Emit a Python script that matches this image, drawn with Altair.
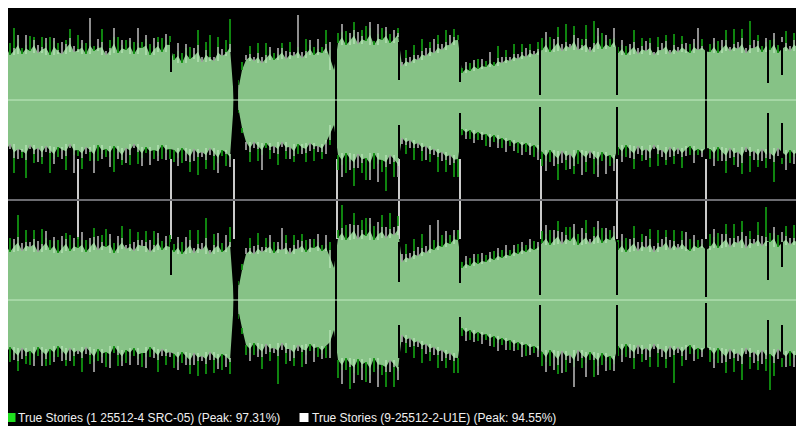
import altair as alt
import numpy as np
import pandas as pd

# ---------------- data ----------------
# Peak amplitude (% of full scale) per time block t (200 blocks), for the two
# channels (top / bottom panel), positive ("up") and negative ("down") side.
# *_common = level reached by both files, *_diff = file1 peak minus file2 peak
# (positive: file 1 / green is higher, negative: file 2 / white is higher)

top_up_common = [
    47, 58, 45, 52, 61, 46, 55, 49, 60, 47, 53, 57, 45, 59, 50, 46, 56, 62, 48, 51, 57, 46, 60, 49, 54, 58, 45, 52, 63, 47, 55, 50, 59, 46, 57, 52, 61, 45, 54, 58, 48, 60, 55,
    40, 49, 37, 52, 41, 46, 55, 38, 50, 43, 39, 53, 44, 48, 56,
    0, 15, 30,
    40, 46, 39, 47, 37, 45, 50, 40, 46, 52, 41, 48, 44, 53, 42, 49, 55, 45, 51, 47, 56, 50, 30,
    57, 68, 55, 62, 70, 56, 64, 59, 72, 55, 66, 60, 69, 57, 63, 67,
    34, 42, 37, 45, 40, 49, 44, 52, 47, 56, 50, 58, 55, 63, 60,
    27, 34, 29, 37, 31, 36, 33, 40, 34, 42, 37, 43, 39, 46, 41, 48, 43, 50, 45, 51,
    50, 60, 48, 56, 63, 49, 58, 52, 65, 50, 55, 61, 48, 57, 64, 51, 59, 53, 62,
    47, 55, 45, 52, 58, 46, 54, 49, 57, 45, 53, 50, 59, 46, 55, 48, 56, 51, 47, 57, 50, 54,
    49,
    48, 57, 47, 54, 60, 49, 56, 51, 62, 47, 55, 52, 59, 48, 58, 50, 61, 47, 54, 57, 49, 60, 52,
]
top_up_diff = [
    8, -6, 12, 20, -4, 6, -10, 15, 3, -8, 10, -5, 18, -3, 7, -12, 4, 9, -6, 14, -3, 11, -22, 5, -7, 13, -4, 8, -9, 16, -5, 10, -3, 12, -15, 6, -4, 11, -8, 5, 14, -6, 9,
    6, -8, 10, -4, 12, -6, 15, -5, 8, 22, -4, 10, -7, 12, 25,
    0, 5, 8,
    -5, 8, -4, 10, -6, 12, -3, 7, -6, 5, -8, 10, -4, -32, -6, 12, -5, 8, -10, 6, 14, -8, 0,
    10, -8, 14, -5, 8, -12, 6, 15, -6, 4, -10, 12, -4, 9, -7, 5,
    -4, 8, -6, 10, -5, 12, -8, 6, -14, 9, -6, 12, -10, 8, 5,
    5, -4, 8, -3, 10, -5, 6, -8, 4, 12, -6, 7, -4, 10, -5, 8, -9, 6, -4, 7,
    12, -8, 15, -5, 10, -7, 18, -4, 9, -12, 6, 14, -5, 22, -8, 16, -6, 8, -10,
    6, -5, 9, -4, 12, -6, 8, -10, 5, -3, 10, -7, 6, -4, 11, -5, 8, -6, 9, -4, -22, 7,
    0,
    8, -5, 12, -6, 10, -4, 15, -7, 9, -5, 24, -8, 6, 6, -4, 10, -6, 8, -9, 12, -5, 7, -4,
]
top_down_common = [
    46, 55, 44, 58, 49, 52, 60, 45, 54, 48, 57, 46, 53, 59, 47, 51, 56, 44, 55, 50, 58, 47, 52, 61, 45, 54, 49, 57, 46, 53, 60, 48, 55, 44, 52, 58, 47, 54, 50, 56, 45, 53, 49,
    50, 58, 48, 55, 62, 49, 57, 52, 60, 48, 56, 63, 50, 54, 59,
    0, 10, 28,
    42, 52, 42, 49, 55, 43, 50, 46, 54, 42, 51, 47, 56, 44, 50, 53, 43, 49, 46, 52, 44, 40, 25,
    55, 65, 53, 62, 68, 54, 63, 58, 70, 53, 64, 60, 67, 55, 62, 66,
    38, 45, 40, 48, 43, 51, 46, 54, 49, 57, 52, 60, 55, 63, 59,
    29, 35, 30, 38, 32, 37, 34, 41, 35, 43, 38, 44, 40, 47, 42, 48, 43, 50, 45, 52,
    52, 61, 50, 58, 64, 51, 60, 54, 66, 50, 57, 62, 51, 59, 65, 52, 60, 55, 63,
    47, 56, 45, 53, 59, 46, 55, 49, 58, 45, 54, 50, 60, 47, 56, 48, 57, 51, 46, 55, 49, 53,
    48,
    49, 58, 47, 55, 61, 48, 57, 52, 63, 47, 56, 51, 60, 49, 58, 53, 62, 48, 55, 59, 50, 57, 52,
]
top_down_diff = [
    -8, 12, -5, 15, -10, 6, 18, -4, 9, -14, 7, -6, 20, -5, 10, -8, 14, -4, -18, 6, 11, -7, 9, -12, 16, -5, 8, -10, 26, -6, 5, -15, 10, -4, 12, -8, 6, -11, 9, -5, 14, -7, 10,
    12, -8, 15, -6, 10, -12, 18, -5, 9, -7, 14, -10, 6, 12, -8,
    0, 3, 5,
    -8, 10, -6, 12, -15, 5, 9, -7, 11, -5, 8, -12, 6, 10, -4, 9, -8, 12, -6, 7, -10, 5, 0,
    15, -12, 20, -8, 18, -14, 10, 22, -10, 16, -18, 12, 24, -9, 15, -11,
    -6, 9, -8, 12, -5, 10, -14, 8, -6, 15, -9, 12, -10, 14, 18,
    6, -4, 9, -5, 8, -3, 12, -6, 7, -5, 10, -8, 6, -4, 11, -7, 9, -5, 12, -8,
    14, -10, 12, -8, 16, -12, 10, -15, 8, 14, -18, 10, -7, 15, -12, 9, -14, 11, -8,
    8, -6, 12, -5, 10, -8, 6, -11, 9, -4, 12, -7, 5, -10, 8, -6, 11, -5, 9, -8, 6, -4,
    0,
    10, -8, 14, -6, 12, -10, 8, -15, 11, -5, 16, -9, 7, -12, 10, -6, 20, -8, 9, -11, 13, -7, 8,
]
bottom_up_common = [
    50, 60, 48, 57, 63, 49, 58, 53, 61, 48, 56, 62, 50, 59, 47, 55, 61, 49, 57, 52, 60, 48, 56, 63, 50, 58, 53, 61, 47, 57, 62, 51, 56, 49, 60, 54, 58, 48, 55, 62, 50, 57, 53,
    48, 57, 46, 54, 60, 47, 56, 50, 62, 46, 55, 59, 48, 53, 58,
    0, 15, 30,
    46, 52, 46, 55, 48, 53, 58, 47, 54, 50, 57, 46, 55, 51, 59, 48, 56, 52, 58, 49, 55, 50, 32,
    62, 72, 60, 68, 75, 61, 70, 64, 76, 60, 69, 73, 62, 71, 65, 74,
    38, 46, 41, 49, 44, 52, 47, 55, 50, 58, 53, 61, 56, 64, 60,
    32, 39, 34, 42, 36, 41, 38, 45, 40, 47, 42, 48, 44, 51, 46, 53, 48, 55, 50, 54,
    57, 66, 55, 63, 69, 56, 65, 59, 70, 55, 62, 67, 56, 64, 71, 57, 65, 60, 68,
    50, 59, 48, 56, 62, 49, 58, 52, 61, 48, 57, 53, 63, 50, 59, 51, 60, 54, 49, 58, 52, 56,
    50,
    54, 63, 52, 60, 66, 53, 62, 57, 68, 52, 61, 56, 65, 54, 63, 58, 67, 53, 60, 64, 55, 62, 58,
]
bottom_up_diff = [
    10, -6, 14, -4, 22, -8, 12, -5, 9, -11, 15, -7, 10, -4, 13, -9, 6, 16, -5, 11, -8, 12, -6, 9, -14, 7, 18, -5, 10, -7, 12, -4, 15, -9, 8, -6, 11, -12, 14, -5, 9, -7, 12,
    8, -6, 12, -9, 10, -5, 14, -7, 20, -4, 11, -8, 9, -12, 15,
    0, 4, 6,
    -6, 10, -8, 12, -5, 9, -7, 11, -4, -22, 8, -6, 10, -9, 7, 12, -5, 9, -8, 6, -10, 8, 0,
    8, 23, 15, -8, 12, -14, 10, 18, -6, 14, -9, 12, -11, 16, -8, 10,
    -8, 10, -6, 12, -9, 14, -7, -20, 10, -22, 12, -8, 9, -6, 10,
    6, -5, 8, -4, 10, -6, 7, -3, 9, -5, 8, -7, 6, -4, 10, -5, 7, -6, 9, -4,
    12, -9, 15, -7, 10, -12, 8, 14, -6, 11, -10, 13, -5, 9, -8, 15, -7, 10, -6,
    10, -7, 14, -5, 12, -9, 8, -12, 10, -6, 13, -8, 7, -10, 11, -5, 9, -14, 12, -7, 8, -5,
    0,
    12, -8, 15, -6, 10, -9, 14, -7, 11, -12, 8, -5, 13, -10, 30, 9, -6, 12, -8, 10, -7, 13, -9,
]
bottom_down_common = [
    49, 58, 47, 55, 61, 48, 56, 51, 60, 47, 54, 59, 49, 57, 46, 53, 60, 48, 56, 50, 58, 47, 55, 62, 49, 57, 52, 60, 46, 55, 61, 50, 56, 48, 59, 53, 57, 47, 54, 60, 49, 56, 52,
    54, 62, 52, 59, 65, 53, 61, 56, 64, 52, 60, 63, 54, 58, 62,
    0, 14, 28,
    45, 53, 43, 51, 57, 44, 52, 48, 56, 43, 53, 49, 58, 45, 52, 55, 44, 51, 47, 54, 46, 50, 30,
    60, 70, 58, 67, 73, 59, 68, 62, 75, 58, 69, 65, 72, 60, 67, 71,
    35, 43, 38, 46, 41, 49, 44, 52, 47, 55, 50, 58, 53, 61, 58,
    28, 35, 30, 38, 32, 37, 34, 41, 36, 43, 38, 44, 40, 47, 42, 48, 44, 50, 46, 51,
    52, 62, 50, 58, 65, 51, 60, 55, 67, 50, 58, 63, 52, 60, 66, 53, 61, 56, 64,
    46, 55, 44, 52, 58, 45, 54, 48, 57, 44, 53, 49, 59, 46, 55, 47, 56, 50, 45, 54, 48, 52,
    47,
    50, 59, 48, 56, 62, 49, 58, 53, 64, 48, 57, 52, 61, 50, 59, 54, 63, 49, 56, 60, 51, 58, 55,
]
bottom_down_diff = [
    12, -8, 15, -5, 10, -11, 8, 14, -6, 9, -12, 7, 16, -5, 11, -8, 6, -13, 10, -4, 14, -7, 9, -10, 12, -6, 15, -8, 7, 11, -5, 13, -9, 8, -6, 14, -11, 10, -4, 12, -7, 9, -5,
    14, -8, 11, -6, 9, -12, 15, -5, 10, -8, 13, -6, 16, -9, 12,
    0, 5, 6,
    10, -8, 12, -6, 12, -10, 9, -5, 28, -7, 11, -12, 8, -6, 15, -9, 7, -11, 10, -5, 12, -8, 0,
    18, -14, 12, 22, -10, 16, -12, 20, -8, 14, -18, 10, 15, -12, 20, -9,
    -7, 10, -9, 12, -6, 14, -10, 9, -8, 13, -11, 10, -7, 12, 15,
    8, -6, 10, -4, 9, -7, 6, -5, 11, -8, 7, -6, 10, -4, 8, -9, 12, -5, 7, -6,
    14, -10, 16, -12, 9, -22, 12, -8, -20, -11, 10, -14, 8, 17, -9, 12, -10, 14, -7,
    10, -7, 13, -6, 11, -9, 8, -12, 10, -5, 14, -8, 9, -11, 28, -6, 10, -10, 9, -7, 11, -5,
    0,
    12, -9, 15, -7, 11, -10, 14, -8, 16, -6, 12, -11, 9, -14, 12, 36, 13, -10, 11, -7, 15, -9, 12,
]

# track markers (time block)
marker_t = [19, 42.25, 58, 83.75, 99.25, 114.5, 134.75, 153.75, 176]
# times where the loudness level changes abruptly
level_breaks = [42.25, 58, 59.5, 60.5, 83.75, 99.25, 114.5, 134.75, 153.75, 176]

# short near-silent dips at track changes: time block and remaining level
dip_t = [42.25, 58.1, 58.5, 58.8, 83.5, 99.25, 114.5, 134.5, 153.75, 176, 191.5, 195]
dip_top_up = [28, 0, 0, 0, 0, 20, 18, 5, 5, 0, 17, 25]
dip_top_down = [58, 0, 0, 0, 0, 25, 13, 7, 7, 0, 13, 23]
dip_bottom_up = [25, 0, 0, 0, 0, 18, 17, 5, 5, 3, 20, 33]
dip_bottom_down = [58, 0, 0, 0, 0, 25, 17, 5, 5, 3, 20, 25]

legend_labels = [
    "True Stories (1 25512-4 SRC-05) (Peak: 97.31%)",
    "True Stories (9-25512-2-U1E) (Peak: 94.55%)",
]

# ---------------- styling ----------------
FILL = "#86c286"
HAIR = "#b4e2b4"
GREEN = "#129c12"
GRAY = "#a8a8a8"
CENTER = "#c3ebc3"
DIVIDER = "#6b6b70"
BG = "#000000"

N = 200
for arr in [top_up_common, top_up_diff, top_down_common, top_down_diff,
            bottom_up_common, bottom_up_diff, bottom_down_common, bottom_down_diff]:
    assert len(arr) == N, len(arr)

offsets = {"top": 100, "bottom": -100}
signs = {"up": 1, "down": -1}
series = {
    ("top", "up"): (top_up_common, top_up_diff),
    ("top", "down"): (top_down_common, top_down_diff),
    ("bottom", "up"): (bottom_up_common, bottom_up_diff),
    ("bottom", "down"): (bottom_down_common, bottom_down_diff),
}
t = np.arange(N)
seg = np.searchsorted(np.array(level_breaks), t, side="right")


def body_of(c):
    # lower envelope of the common level (valleys), computed within each segment
    s = pd.Series(np.asarray(c, dtype=float))
    return s.groupby(seg).transform(
        lambda g: g.rolling(3, center=True, min_periods=1).min()).to_numpy()


def edge_of(c):
    c = np.asarray(c, dtype=float)
    b = body_of(c)
    return b + 0.6 * (c - b)


area_rows, hair_rows, spike_rows = [], [], []
for ch in ["top", "bottom"]:
    off = offsets[ch]
    eu = edge_of(series[(ch, "up")][0])
    ed = edge_of(series[(ch, "down")][0])
    area_rows.append(pd.DataFrame({"t": t, "ch": ch, "yu": off + eu, "yd": off - ed}))
for (ch, side), (c, d) in series.items():
    off, sg = offsets[ch], signs[side]
    c = np.array(c, dtype=float)
    d = np.array(d, dtype=float)
    b = body_of(c)
    mh = c > b
    hair_rows.append(pd.DataFrame({"t": t[mh], "y0": off + sg * b[mh], "y1": off + sg * c[mh]}))
    m = d != 0
    spike_rows.append(pd.DataFrame({
        "t": t[m],
        "y0": off + sg * c[m],
        "y1": off + sg * (c[m] + np.abs(d[m])),
        "who": np.where(d[m] > 0, "file1", "file2"),
    }))
area_df = pd.concat(area_rows)
hair_df = pd.concat(hair_rows)
spike_df = pd.concat(spike_rows)

CAP = 58
dip_rows = []
for ch, side, res in [("top", "up", dip_top_up), ("top", "down", dip_top_down),
                      ("bottom", "up", dip_bottom_up), ("bottom", "down", dip_bottom_down)]:
    off, sg = offsets[ch], signs[side]
    for tt, r in zip(dip_t, res):
        if r < CAP:
            dip_rows.append({"t": tt, "y0": off + sg * r, "y1": off + sg * CAP})
dip_df = pd.DataFrame(dip_rows)

marker_df = pd.DataFrame({"t": marker_t, "y0": offsets["top"] - 59, "y1": offsets["bottom"] + 61})
center_df = pd.DataFrame({"y": [offsets["top"], offsets["bottom"]]})
divider_df = pd.DataFrame({"y": [0]})

XS = alt.Scale(domain=[1.5, 198.5], nice=False, zero=False)
YS = alt.Scale(domain=[-226, 192], nice=False, zero=False)


def X(f="t"):
    return alt.X(f + ":Q", scale=XS, axis=None)


def Y(f):
    return alt.Y(f + ":Q", scale=YS, axis=None)


markers = alt.Chart(marker_df).mark_rule(color="#ffffff", strokeWidth=1.6, clip=True).encode(
    x=X(), y=Y("y0"), y2="y1")

area = alt.Chart(area_df).mark_area(color=FILL, interpolate="linear", clip=True).encode(
    x=X(), y=Y("yu"), y2="yd", detail="ch:N")

hairs = alt.Chart(hair_df).mark_rule(color=HAIR, strokeWidth=1.5, clip=True).encode(
    x=X(), y=Y("y0"), y2="y1")

spikes = alt.Chart(spike_df).mark_rule(strokeWidth=1.7, clip=True).encode(
    x=X(), y=Y("y0"), y2="y1",
    color=alt.Color("who:N", scale=alt.Scale(domain=["file1", "file2"], range=[GREEN, GRAY]), legend=None))

dips = alt.Chart(dip_df).mark_rule(color=BG, strokeWidth=2, clip=True).encode(
    x=X(), y=Y("y0"), y2="y1")

centers = alt.Chart(center_df).mark_rule(color=CENTER, strokeWidth=1).encode(y=Y("y"))
divider = alt.Chart(divider_df).mark_rule(color=DIVIDER, strokeWidth=2).encode(y=Y("y"))

leg_y = 410
legend_layers = []
for lab, sx, tx, col in [(legend_labels[0], 3, 10, "#1fe01f"), (legend_labels[1], 296, 304, "#ffffff")]:
    ld = pd.DataFrame({"label": [lab]})
    legend_layers.append(
        alt.Chart(ld).mark_square(size=81, filled=True, color=col, opacity=1).encode(
            x=alt.value(sx), y=alt.value(leg_y - 0.5)))
    legend_layers.append(
        alt.Chart(ld).mark_text(align="left", baseline="middle", font="Liberation Sans",
                                fontSize=12, color="#f0f0f0").encode(
            x=alt.value(tx), y=alt.value(leg_y), text="label:N"))

chart = alt.layer(markers, area, hairs, spikes, dips, centers, divider, *legend_layers).properties(
    width=788, height=418, padding=0, background=BG,
    autosize=alt.AutoSizeParams(type="none"),
).configure_view(strokeWidth=0)

chart.save("out.html", embed_options={"renderer": "svg", "actions": False})
